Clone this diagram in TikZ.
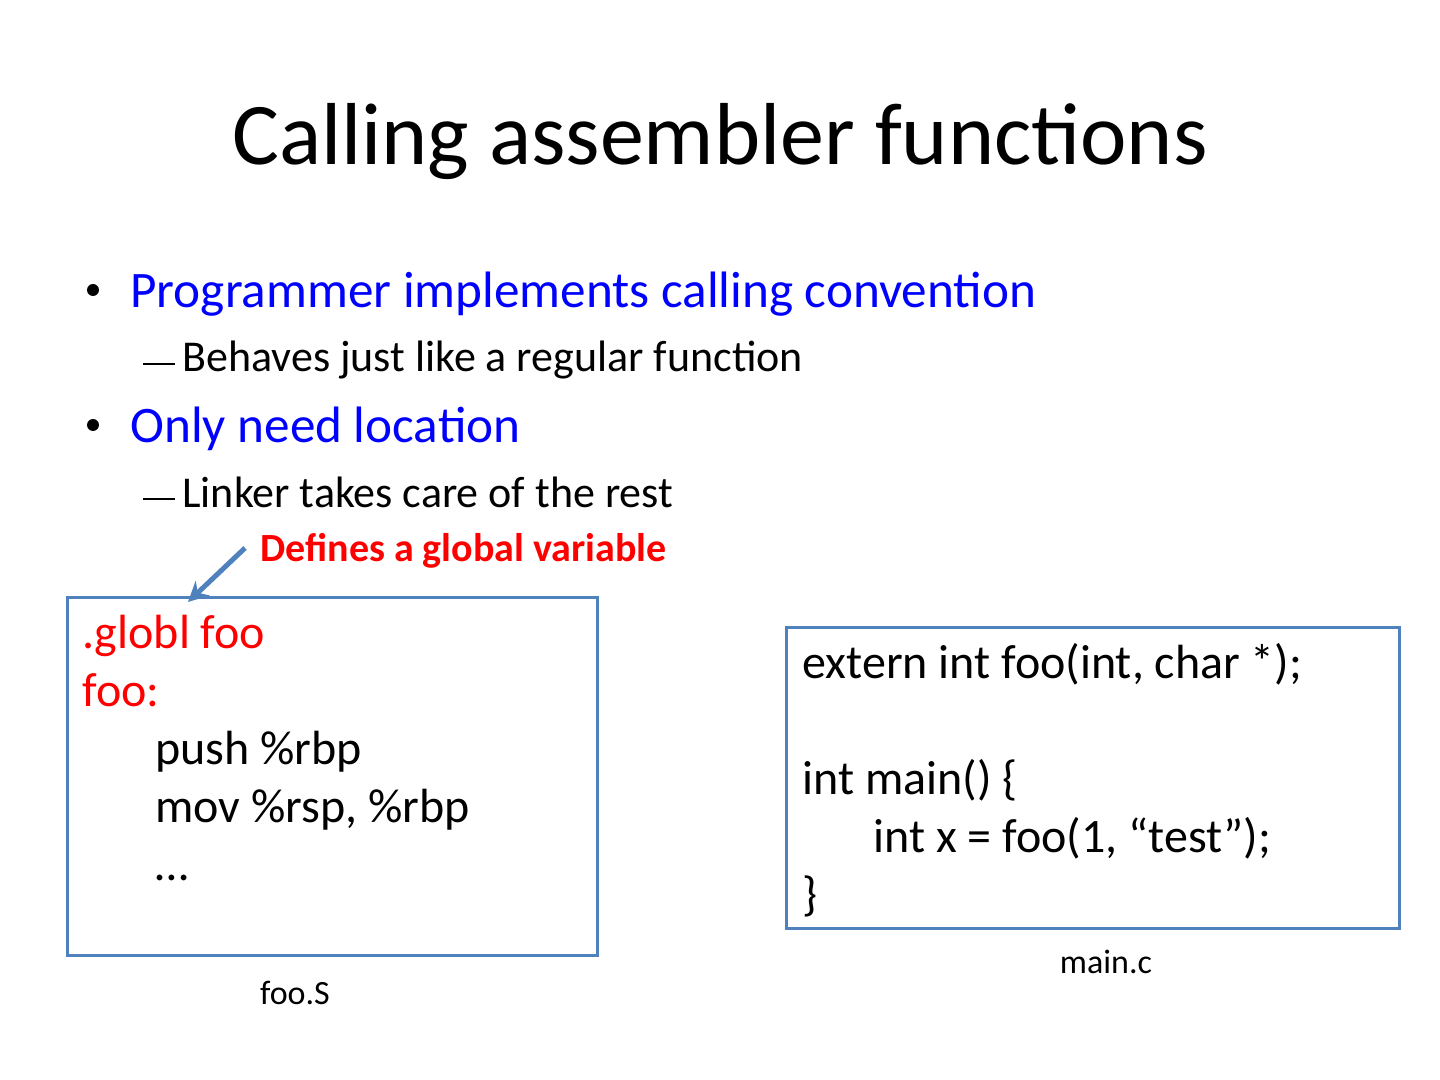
\documentclass[tikz,border=0pt]{standalone}
\usepackage{fontspec}
\usetikzlibrary{arrows.meta}
\setmainfont{Carlito}
\definecolor{boxblue}{HTML}{4F81BD}
\definecolor{bulblue}{HTML}{0000FF}
\definecolor{redtxt}{HTML}{FF0000}
\tikzset{
  txt/.style={anchor=base west, inner sep=0pt},
  code/.style={txt, font=\fontsize{24}{28}\selectfont},
  codebox/.style={draw=boxblue, line width=1.5pt},
  bul/.style={txt, font=\fontsize{25.6}{30}\selectfont, text=bulblue},
  sub/.style={txt, font=\fontsize{22}{26}\selectfont},
}
\begin{document}
\begin{tikzpicture}[x=0.5pt,y=-0.5pt]
\useasboundingbox (0,0) rectangle (1440,1080);
\node[anchor=base, inner sep=0pt, font=\fontsize{44}{50}\selectfont] (title) at (720,165) {Calling assembler functions};
% bullets
\node[bul] (b1) at (130,308) {Programmer implements calling convention};
\fill (93,290) circle (6);
\node[sub] (s1) at (182,372) {Behaves just like a regular function};
\draw[line width=1pt] (143,364) -- (175,364);
\node[bul] (b2) at (130,443) {Only need location};
\fill (93,425) circle (6);
\node[sub] (s2) at (182,507) {Linker takes care of the rest};
\draw[line width=1pt] (143,499) -- (175,499);
% red label
\node[txt, font=\bfseries\fontsize{20}{24}\selectfont, text=redtxt] (lbl) at (260,561) {Defines a global variable};
\coordinate (as) at (245,548);
\coordinate (ae) at (188,602);
\draw[boxblue, line width=2.5pt, -{Stealth[length=10pt,width=10pt]}] (as) -- (ae);
% left box
\draw[codebox] (67,597) rectangle (597,955);
\node[code, text=redtxt] (l1) at (82,648) {.globl foo};
\node[code, text=redtxt] (l2) at (82,706) {foo:};
\node[code] (l3) at (155,764) {push \%rbp};
\node[code] (l4) at (155,822) {mov \%rsp, \%rbp};
\node[code] (l5) at (155,880) {…};
% right box
\draw[codebox] (786,627) rectangle (1399,928);
\node[code] (r1) at (802,678) {extern int foo(int, char *);};
\node[code] (r2) at (802,794) {int main() \{};
\node[code] (r3) at (873,852) {int x = foo(1, “test”);};
\node[code] (r4) at (802,910) {\}};
% captions
\node[anchor=base, inner sep=0pt, font=\fontsize{17}{20}\selectfont] (cap1) at (295,1004) {foo.S};
\node[anchor=base, inner sep=0pt, font=\fontsize{17}{20}\selectfont] (cap2) at (1106,973) {main.c};
\end{tikzpicture}
\end{document}
